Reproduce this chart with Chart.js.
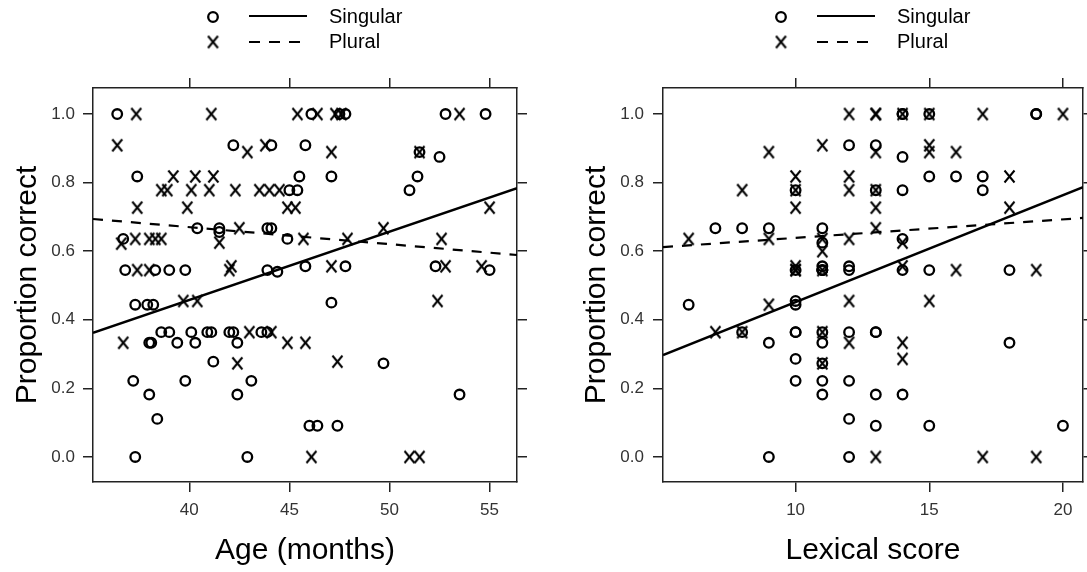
<!DOCTYPE html>
<html>
<head>
<meta charset="utf-8">
<script src="https://cdn.jsdelivr.net/npm/chart.js@4.4.1/dist/chart.umd.min.js"></script>
<style>
  body { margin: 0; background: #fff; }
  #wrap { position: relative; width: 1087px; height: 572px; }
  canvas { position: absolute; top: 0; }
  #ageChart { left: 0; }
  #lexChart { left: 540px; }
</style>
</head>
<body>
<div id="wrap">
  <canvas id="ageChart" width="540" height="572"></canvas>
  <canvas id="lexChart" width="547" height="572"></canvas>
</div>
<script>
// ---- left panel: age (months) ----
const ageSingX = [36.4, 46.1, 47.5, 47.8, 52.8, 54.8,
  42.2, 44.1, 45.8, 51.5, 52.5,
  37.4, 45.5, 47.1, 51.4, 51.0, 45.0, 45.4,
  40.4, 41.5, 41.5, 43.9, 44.1, 44.9, 36.7,
  36.8, 38.3, 39.0, 39.8, 43.9, 44.4, 45.8, 47.8, 52.3, 55.0,
  37.3, 37.9, 38.2, 47.1,
  38.0, 38.1, 38.6, 39.0, 39.4, 40.1, 40.3, 40.9, 41.1, 42.0, 42.2, 42.4, 43.6, 43.9,
  41.2, 49.7, 37.2, 39.8, 43.1, 38.0, 42.4, 53.5, 38.4,
  46.0, 46.4, 47.4, 37.3, 42.9];
const ageSingY = [1.0, 1.0, 1.0, 1.0, 1.0, 1.0,
  0.909, 0.909, 0.909, 0.889, 0.875,
  0.818, 0.818, 0.818, 0.818, 0.778, 0.778, 0.778,
  0.667, 0.667, 0.656, 0.667, 0.667, 0.636, 0.636,
  0.545, 0.545, 0.545, 0.545, 0.545, 0.54, 0.556, 0.556, 0.556, 0.545,
  0.444, 0.444, 0.444, 0.45,
  0.333, 0.333, 0.364, 0.364, 0.333, 0.364, 0.333, 0.364, 0.364, 0.364, 0.364, 0.333, 0.364, 0.364,
  0.278, 0.273, 0.222, 0.222, 0.222, 0.182, 0.182, 0.182, 0.111,
  0.091, 0.091, 0.091, 0.0, 0.0];

const agePlurX = [37.35, 41.1, 45.4, 46.4, 47.3, 47.6, 53.5,
  36.4, 42.9, 43.8, 47.1, 51.5,
  39.2, 40.3, 41.2,
  38.6, 38.9, 40.1, 41.0, 42.3, 43.5, 44.0, 44.5,
  37.4, 39.9, 44.9, 45.3, 55.0,
  42.5, 49.7,
  36.6, 37.3, 38.0, 38.3, 38.6, 41.5, 45.7, 47.9, 52.6,
  37.4, 38.0, 42.0, 42.1, 47.1, 52.8, 54.6,
  39.7, 40.4, 52.4,
  36.7, 43.0, 44.1, 44.9, 45.8,
  42.4, 47.4,
  46.1, 51.0, 51.5];
const agePlurY = [1.0, 1.0, 1.0, 1.0, 1.0, 1.0, 1.0,
  0.909, 0.889, 0.909, 0.889, 0.889,
  0.818, 0.818, 0.818,
  0.778, 0.778, 0.778, 0.778, 0.778, 0.778, 0.778, 0.778,
  0.727, 0.727, 0.727, 0.727, 0.727,
  0.667, 0.667,
  0.622, 0.636, 0.636, 0.636, 0.636, 0.625, 0.636, 0.636, 0.636,
  0.545, 0.545, 0.545, 0.556, 0.556, 0.556, 0.556,
  0.455, 0.455, 0.455,
  0.333, 0.364, 0.364, 0.333, 0.333,
  0.273, 0.278,
  0.0, 0.0, 0.0];

const ageRange = [35.19, 56.37];
const ageSingLine = [0.362, 0.784];
const agePlurLine = [0.694, 0.589];
const ageTicks = [40, 45, 50, 55];

// ---- right panel: lexical score ----
const lexSingX = [14, 14, 15, 19, 19,
  13, 12, 14,
  10, 13, 14, 15, 16, 17, 17,
  7, 8, 9, 11, 11, 14,
  10, 11, 11, 11, 11, 12, 12, 14, 15, 18,
  6, 10, 10,
  8, 9, 10, 10, 11, 11, 12, 13, 13,
  10, 11, 10, 11, 12, 11, 13, 14,
  12, 13, 15, 20, 9, 12, 18];
const lexSingY = [1.0, 1.0, 1.0, 1.0, 1.0,
  0.909, 0.909, 0.875,
  0.778, 0.778, 0.778, 0.818, 0.818, 0.818, 0.778,
  0.667, 0.667, 0.667, 0.667, 0.625, 0.636,
  0.545, 0.545, 0.545, 0.556, 0.545, 0.545, 0.556, 0.545, 0.545, 0.545,
  0.444, 0.455, 0.444,
  0.364, 0.333, 0.364, 0.364, 0.364, 0.333, 0.364, 0.364, 0.364,
  0.286, 0.273, 0.222, 0.222, 0.222, 0.182, 0.182, 0.182,
  0.111, 0.091, 0.091, 0.091, 0.0, 0.0, 0.333];

const lexPlurX = [12, 13, 13, 14, 15, 17, 20,
  9, 11, 13, 15, 15, 16,
  8, 10, 10, 10, 12, 12, 13, 13, 18, 18,
  13,
  6, 9, 11, 11, 12, 14,
  10, 10, 10, 11, 14, 16, 19,
  9, 12, 15,
  7, 8, 11, 12, 14,
  11, 14,
  13, 17, 19];
const lexPlurY = [1.0, 1.0, 1.0, 1.0, 1.0, 1.0, 1.0,
  0.889, 0.909, 0.889, 0.909, 0.889, 0.889,
  0.778, 0.818, 0.778, 0.727, 0.818, 0.778, 0.778, 0.727, 0.818, 0.727,
  0.667,
  0.636, 0.636, 0.636, 0.6, 0.636, 0.625,
  0.545, 0.556, 0.545, 0.545, 0.556, 0.545, 0.545,
  0.444, 0.455, 0.455,
  0.364, 0.364, 0.364, 0.333, 0.333,
  0.273, 0.286,
  0.0, 0.0, 0.0];

const lexRange = [5.04, 20.75];
const lexSingLine = [0.297, 0.787];
const lexPlurLine = [0.612, 0.697];
const lexTicks = [10, 15, 20];

const propRange = [-0.073, 1.076];
const propTicks = [0, 0.2, 0.4, 0.6, 0.8, 1.0];

const family = '"Liberation Sans", Arial, sans-serif';
const ink = '#000';

// X marker drawn like the letter used in the plot
function makeXMark() {
  const c = document.createElement('canvas');
  c.width = 13; c.height = 15;
  const g = c.getContext('2d');
  g.strokeStyle = ink;
  g.lineWidth = 2;
  g.beginPath();
  g.moveTo(1.5, 1.5); g.lineTo(11.5, 13.5);
  g.moveTo(11.5, 1.5); g.lineTo(1.5, 13.5);
  g.stroke();
  return c;
}
const xMark = makeXMark();

const zip = (xs, ys) => xs.map((x, i) => ({x: x, y: ys[i]}));

// key at top: o ---- Singular / x - - - Plural
const keyPlugin = {
  id: 'key',
  afterDraw(chart) {
    const ctx = chart.ctx;
    const a = chart.chartArea;
    const cx = (a.left + a.right) / 2;
    ctx.save();
    ctx.strokeStyle = ink;
    ctx.fillStyle = '#000';
    ctx.lineWidth = 2.3;
    ctx.beginPath();
    ctx.arc(cx - 92, 17, 4.8, 0, Math.PI * 2);
    ctx.stroke();
    ctx.lineWidth = 2.2;
    ctx.beginPath();
    ctx.moveTo(cx - 56, 16); ctx.lineTo(cx + 2, 16);
    ctx.stroke();
    ctx.drawImage(xMark, cx - 98.5, 34.5);
    ctx.setLineDash([11, 9]);
    ctx.beginPath();
    ctx.moveTo(cx - 56, 42); ctx.lineTo(cx + 2, 42);
    ctx.stroke();
    ctx.setLineDash([]);
    ctx.font = '20px ' + family;
    ctx.textBaseline = 'middle';
    ctx.fillText('Singular', cx + 24, 17);
    ctx.fillText('Plural', cx + 24, 42);
    ctx.restore();
  }
};

function makePanel(id, d) {
  const border = {display: true, color: '#222', width: 1.5};
  const grid = {drawOnChartArea: false, drawTicks: true, tickLength: 10, color: '#222', lineWidth: 1.5};
  const tickFont = {size: 17, family: family};
  const setTicks = vals => s => { s.ticks = vals.map(v => ({value: v})); };

  return new Chart(document.getElementById(id), {
    type: 'scatter',
    data: {
      datasets: [
        {
          label: 'Singular',
          data: zip(d.singX, d.singY),
          pointStyle: 'circle',
          pointRadius: 4.8,
          pointBorderWidth: 2.3,
          pointBorderColor: ink,
          pointBackgroundColor: 'rgba(0,0,0,0)'
        },
        {
          label: 'Plural',
          data: zip(d.plurX, d.plurY),
          pointStyle: xMark,
          pointRadius: 6
        },
        {
          label: 'Singular fit',
          data: zip(d.range, d.singLine),
          showLine: true,
          pointRadius: 0,
          borderColor: ink,
          borderWidth: 2.4
        },
        {
          label: 'Plural fit',
          data: zip(d.range, d.plurLine),
          showLine: true,
          pointRadius: 0,
          borderColor: ink,
          borderWidth: 2.2,
          borderDash: [10, 9]
        }
      ]
    },
    options: {
      responsive: false,
      animation: false,
      events: [],
      layout: {padding: 0, autoPadding: false},
      plugins: {legend: {display: false}, tooltip: {enabled: false}},
      scales: {
        x: {
          type: 'linear', position: 'bottom',
          min: d.range[0], max: d.range[1],
          border: border, grid: grid,
          afterBuildTicks: setTicks(d.xTicks),
          afterFit: s => { s.height = 90; },
          ticks: {color: '#333', font: tickFont, padding: 8, maxRotation: 0, autoSkip: false},
          title: {display: true, text: d.xTitle, color: '#000',
                  font: {size: 30, family: family}, padding: {top: 0, bottom: 3}}
        },
        x2: {
          type: 'linear', position: 'top',
          min: d.range[0], max: d.range[1],
          border: border, grid: grid,
          afterBuildTicks: setTicks(d.xTicks),
          afterFit: s => { s.height = 88; },
          ticks: {display: false}
        },
        y: {
          type: 'linear', position: 'left',
          min: propRange[0], max: propRange[1],
          border: border, grid: grid,
          afterBuildTicks: setTicks(propTicks),
          afterFit: s => { s.width = d.yWidth; },
          ticks: {color: '#333', font: tickFont, padding: d.yPad,
                  callback: v => v.toFixed(1)},
          title: {display: true, text: 'Proportion correct', color: '#000',
                  font: {size: 30, family: family}, padding: {top: d.yTitlePad, bottom: 0}}
        },
        y2: {
          type: 'linear', position: 'right',
          min: propRange[0], max: propRange[1],
          border: border, grid: grid,
          afterBuildTicks: setTicks(propTicks),
          afterFit: s => { s.width = d.y2Width; },
          ticks: {display: false}
        }
      }
    },
    plugins: [keyPlugin]
  });
}

makePanel('ageChart', {
  singX: ageSingX, singY: ageSingY, plurX: agePlurX, plurY: agePlurY,
  range: ageRange, singLine: ageSingLine, plurLine: agePlurLine,
  xTicks: ageTicks, xTitle: 'Age (months)',
  yWidth: 93, y2Width: 23, yPad: 8, yTitlePad: 10
});

makePanel('lexChart', {
  singX: lexSingX, singY: lexSingY, plurX: lexPlurX, plurY: lexPlurY,
  range: lexRange, singLine: lexSingLine, plurLine: lexPlurLine,
  xTicks: lexTicks, xTitle: 'Lexical score',
  yWidth: 123, y2Width: 4, yPad: 9, yTitlePad: 39
});
</script>
</body>
</html>
